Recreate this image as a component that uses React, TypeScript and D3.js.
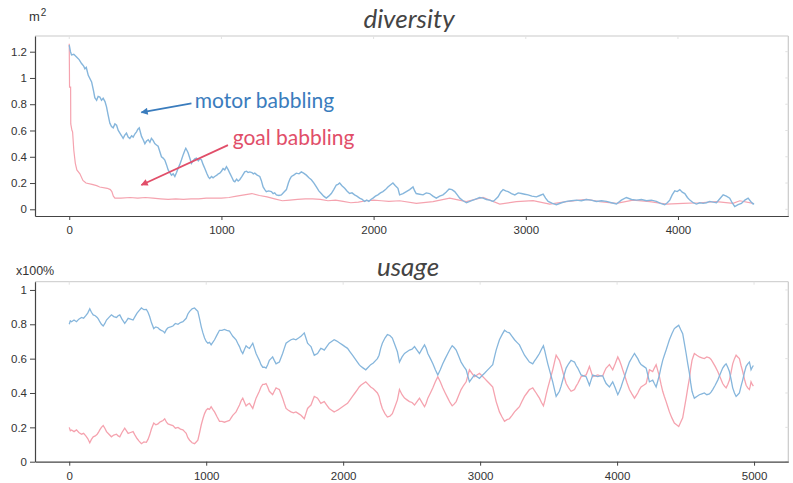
import React, { useEffect, useRef } from "react";
import * as d3 from "d3";

// ---------- data ----------
const diversityTicksX = [0, 1000, 2000, 3000, 4000];
const diversityTicksY = [0, 0.2, 0.4, 0.6, 0.8, 1, 1.2];
const usageTicksX = [0, 1000, 2000, 3000, 4000, 5000];
const usageTicksY = [0, 0.2, 0.4, 0.6, 0.8, 1];

const motorDiversity: [number, number][] = [
  [0,1.25],[8,1.2],[15,1.175],[30,1.18],[48,1.16],[65,1.14],[81,1.11],[95,1.09],[103,1.07],[112,1.08],
  [125,1.02],[147,0.97],[160,0.9],[168,0.85],[180,0.83],[190,0.86],[201,0.855],[212,0.83],[223,0.845],[235,0.82],
  [245,0.78],[255,0.72],[267,0.655],[278,0.63],[289,0.62],[300,0.65],[311,0.64],[322,0.6],[333,0.58],[344,0.56],
  [354,0.54],[365,0.565],[376,0.58],[387,0.55],[398,0.54],[410,0.56],[420,0.55],[432,0.575],[442,0.59],[451,0.61],
  [460,0.62],[468,0.585],[475,0.555],[486,0.53],[497,0.5],[508,0.52],[519,0.53],[530,0.51],[540,0.54],[551,0.525],
  [562,0.5],[573,0.49],[584,0.48],[595,0.44],[606,0.4],[617,0.39],[628,0.375],[639,0.34],[650,0.3],[661,0.28],
  [672,0.26],[683,0.27],[694,0.25],[705,0.28],[715,0.31],[726,0.34],[737,0.375],[750,0.42],[760,0.45],[766,0.465],
  [773,0.45],[781,0.43],[792,0.39],[803,0.35],[814,0.37],[825,0.385],[836,0.39],[848,0.37],[858,0.385],[869,0.375],
  [880,0.34],[891,0.31],[905,0.27],[915,0.245],[923,0.235],[935,0.25],[945,0.24],[956,0.25],[970,0.26],[980,0.27],
  [989,0.275],[1000,0.29],[1011,0.31],[1022,0.3],[1033,0.325],[1045,0.3],[1055,0.275],[1070,0.24],[1080,0.215],[1088,0.21],
  [1100,0.23],[1110,0.215],[1120,0.225],[1135,0.25],[1145,0.27],[1153,0.285],[1165,0.29],[1175,0.28],[1186,0.285],[1200,0.28],
  [1210,0.27],[1219,0.275],[1235,0.26],[1252,0.25],[1262,0.22],[1274,0.17],[1285,0.15],[1295,0.135],[1310,0.14],[1328,0.135],
  [1340,0.12],[1350,0.125],[1361,0.11],[1378,0.105],[1394,0.11],[1410,0.13],[1427,0.15],[1440,0.2],[1450,0.23],[1460,0.25],
  [1475,0.26],[1492,0.275],[1510,0.27],[1525,0.285],[1540,0.275],[1558,0.26],[1575,0.24],[1591,0.225],[1608,0.2],[1624,0.17],
  [1640,0.14],[1656,0.12],[1672,0.1],[1689,0.085],[1705,0.1],[1722,0.12],[1738,0.15],[1755,0.185],[1766,0.19],[1777,0.2],
  [1792,0.18],[1810,0.16],[1825,0.14],[1842,0.12],[1858,0.125],[1875,0.11],[1890,0.1],[1908,0.085],[1925,0.075],[1941,0.06],
  [1955,0.07],[1969,0.06],[1982,0.075],[1996,0.085],[2012,0.1],[2028,0.11],[2045,0.125],[2061,0.135],[2078,0.15],[2094,0.17],
  [2110,0.185],[2127,0.2],[2143,0.18],[2160,0.16],[2171,0.11],[2193,0.12],[2215,0.135],[2237,0.15],[2259,0.17],[2270,0.14],
  [2280,0.12],[2303,0.115],[2325,0.11],[2346,0.125],[2368,0.12],[2390,0.1],[2412,0.085],[2434,0.1],[2456,0.11],[2476,0.13],
  [2496,0.155],[2515,0.15],[2533,0.135],[2550,0.11],[2566,0.085],[2588,0.065],[2610,0.05],[2632,0.06],[2653,0.07],[2675,0.08],
  [2697,0.09],[2719,0.085],[2741,0.075],[2763,0.07],[2785,0.06],[2800,0.075],[2818,0.095],[2835,0.13],[2851,0.15],[2868,0.14],
  [2884,0.135],[2906,0.12],[2928,0.11],[2950,0.125],[2971,0.12],[2993,0.115],[3015,0.11],[3040,0.1],[3070,0.095],[3092,0.105],
  [3114,0.115],[3130,0.085],[3147,0.06],[3175,0.045],[3201,0.035],[3235,0.05],[3267,0.06],[3300,0.065],[3333,0.07],[3365,0.065],
  [3398,0.075],[3430,0.07],[3464,0.06],[3497,0.065],[3530,0.06],[3563,0.05],[3596,0.04],[3628,0.07],[3661,0.09],[3695,0.075],
  [3727,0.07],[3760,0.075],[3793,0.065],[3825,0.07],[3858,0.06],[3885,0.045],[3913,0.035],[3930,0.05],[3946,0.07],[3962,0.11],
  [3979,0.14],[3995,0.135],[4012,0.15],[4028,0.13],[4045,0.12],[4062,0.09],[4078,0.07],[4100,0.05],[4121,0.04],[4143,0.05],
  [4165,0.045],[4187,0.05],[4209,0.06],[4231,0.055],[4253,0.05],[4275,0.08],[4297,0.11],[4318,0.1],[4340,0.085],[4356,0.05],
  [4373,0.02],[4395,0.035],[4417,0.045],[4440,0.07],[4461,0.085],[4478,0.06],[4494,0.04],[4500,0.045]
];

const goalDiversity: [number, number][] = [
  [0,1.26],[1,1.1],[2,0.93],[9,0.93],[10,0.65],[18,0.6],[22,0.59],[30,0.45],[40,0.35],[50,0.3],
  [70,0.27],[90,0.22],[110,0.2],[150,0.19],[180,0.18],[200,0.17],[250,0.16],[270,0.15],[280,0.135],[290,0.1],
  [300,0.085],[340,0.085],[400,0.09],[450,0.085],[500,0.09],[550,0.085],[600,0.08],[650,0.075],[700,0.08],[750,0.075],
  [800,0.08],[850,0.08],[900,0.085],[950,0.085],[1000,0.085],[1050,0.09],[1100,0.1],[1150,0.11],[1200,0.12],[1250,0.105],
  [1300,0.095],[1350,0.08],[1400,0.065],[1450,0.07],[1500,0.075],[1550,0.08],[1600,0.08],[1650,0.075],[1700,0.065],[1750,0.07],
  [1800,0.06],[1850,0.05],[1900,0.055],[1950,0.065],[2000,0.07],[2050,0.065],[2100,0.06],[2171,0.065],[2281,0.045],[2390,0.058],
  [2500,0.085],[2609,0.058],[2719,0.09],[2829,0.04],[2938,0.058],[3048,0.066],[3157,0.04],[3267,0.058],[3398,0.075],[3486,0.058],
  [3596,0.045],[3705,0.07],[3815,0.058],[3924,0.04],[4034,0.045],[4143,0.05],[4253,0.058],[4362,0.045],[4406,0.065],[4494,0.045]
];

const motorUsage: [number, number][] = [
  [0,0.8],[8,0.82],[17,0.815],[35,0.825],[53,0.815],[70,0.83],[90,0.84],[105,0.835],[121,0.85],[135,0.865],
  [150,0.89],[162,0.87],[175,0.855],[190,0.85],[204,0.84],[213,0.83],[223,0.815],[235,0.8],[248,0.79],[260,0.805],
  [272,0.825],[290,0.84],[308,0.855],[325,0.845],[345,0.84],[357,0.85],[369,0.855],[385,0.83],[405,0.805],[418,0.82],
  [430,0.835],[448,0.83],[466,0.825],[480,0.845],[495,0.865],[510,0.88],[527,0.895],[545,0.885],[563,0.887],[575,0.87],
  [587,0.845],[600,0.81],[617,0.775],[632,0.785],[648,0.78],[660,0.77],[672,0.765],[685,0.76],[697,0.75],[710,0.77],
  [721,0.78],[740,0.785],[757,0.79],[775,0.805],[794,0.8],[812,0.81],[830,0.815],[842,0.825],[854,0.835],[866,0.86],
  [879,0.875],[897,0.89],[915,0.895],[927,0.885],[939,0.875],[952,0.83],[964,0.785],[976,0.75],[988,0.72],[1000,0.7],
  [1012,0.69],[1024,0.695],[1036,0.68],[1048,0.695],[1061,0.71],[1080,0.74],[1097,0.765],[1115,0.765],[1133,0.77],[1150,0.765],
  [1170,0.76],[1182,0.745],[1194,0.73],[1206,0.72],[1218,0.71],[1230,0.69],[1243,0.67],[1255,0.645],[1267,0.63],[1280,0.655],
  [1291,0.675],[1304,0.665],[1316,0.66],[1328,0.675],[1340,0.69],[1352,0.66],[1364,0.63],[1376,0.61],[1388,0.59],[1400,0.565],
  [1413,0.55],[1425,0.55],[1437,0.545],[1449,0.565],[1461,0.59],[1473,0.6],[1485,0.61],[1497,0.59],[1510,0.57],[1522,0.575],
  [1534,0.58],[1546,0.605],[1558,0.63],[1570,0.66],[1583,0.69],[1600,0.7],[1619,0.71],[1637,0.715],[1655,0.71],[1674,0.72],
  [1692,0.73],[1704,0.74],[1716,0.75],[1728,0.72],[1740,0.69],[1752,0.68],[1765,0.67],[1777,0.645],[1789,0.62],[1801,0.625],
  [1813,0.63],[1825,0.645],[1837,0.66],[1850,0.655],[1862,0.65],[1880,0.67],[1898,0.69],[1916,0.7],[1934,0.71],[1947,0.705],
  [1959,0.7],[1977,0.69],[1995,0.68],[2013,0.67],[2032,0.66],[2050,0.64],[2068,0.62],[2086,0.6],[2104,0.58],[2117,0.565],
  [2129,0.555],[2147,0.545],[2165,0.535],[2183,0.55],[2201,0.565],[2220,0.575],[2238,0.59],[2250,0.6],[2262,0.62],[2274,0.66],
  [2286,0.69],[2305,0.72],[2323,0.74],[2341,0.735],[2359,0.72],[2378,0.68],[2396,0.64],[2411,0.58],[2430,0.61],[2448,0.63],
  [2466,0.64],[2484,0.65],[2503,0.655],[2521,0.67],[2539,0.65],[2557,0.63],[2575,0.655],[2594,0.68],[2606,0.66],[2618,0.63],
  [2637,0.6],[2655,0.57],[2673,0.535],[2691,0.505],[2709,0.535],[2727,0.57],[2745,0.6],[2764,0.63],[2780,0.655],[2796,0.675],
  [2810,0.665],[2825,0.65],[2843,0.615],[2861,0.58],[2880,0.555],[2898,0.535],[2910,0.5],[2922,0.465],[2940,0.485],[2959,0.505],
  [2977,0.495],[2995,0.485],[3013,0.5],[3032,0.515],[3050,0.53],[3068,0.545],[3080,0.555],[3092,0.565],[3105,0.61],[3117,0.65],
  [3129,0.68],[3141,0.71],[3160,0.74],[3178,0.765],[3196,0.755],[3214,0.75],[3233,0.73],[3251,0.71],[3269,0.695],[3287,0.68],
  [3305,0.65],[3324,0.62],[3342,0.6],[3360,0.58],[3372,0.575],[3384,0.57],[3396,0.585],[3409,0.6],[3421,0.615],[3433,0.63],
  [3448,0.655],[3462,0.675],[3472,0.645],[3482,0.61],[3494,0.57],[3506,0.535],[3518,0.5],[3530,0.465],[3543,0.42],[3555,0.38],
  [3567,0.395],[3579,0.41],[3591,0.44],[3603,0.475],[3615,0.51],[3628,0.545],[3646,0.57],[3664,0.59],[3677,0.585],[3689,0.58],
  [3701,0.56],[3713,0.545],[3725,0.525],[3737,0.505],[3755,0.5],[3774,0.495],[3786,0.47],[3798,0.445],[3810,0.475],[3822,0.505],
  [3840,0.5],[3859,0.495],[3877,0.5],[3895,0.5],[3908,0.475],[3920,0.455],[3932,0.445],[3944,0.435],[3956,0.45],[3968,0.465],
  [3986,0.43],[4005,0.39],[4017,0.41],[4029,0.435],[4041,0.465],[4054,0.495],[4072,0.54],[4090,0.58],[4108,0.605],[4127,0.63],
  [4139,0.615],[4151,0.6],[4163,0.58],[4175,0.565],[4194,0.555],[4212,0.545],[4224,0.505],[4236,0.465],[4248,0.47],[4260,0.475],
  [4272,0.455],[4285,0.435],[4297,0.47],[4309,0.505],[4321,0.55],[4333,0.59],[4345,0.62],[4358,0.65],[4370,0.68],[4382,0.71],
  [4400,0.745],[4418,0.775],[4434,0.785],[4450,0.795],[4464,0.77],[4479,0.745],[4491,0.69],[4504,0.63],[4516,0.57],[4528,0.515],
  [4537,0.46],[4547,0.41],[4555,0.39],[4564,0.37],[4582,0.38],[4601,0.39],[4619,0.395],[4637,0.4],[4655,0.39],[4674,0.395],
  [4686,0.405],[4698,0.42],[4716,0.445],[4735,0.475],[4753,0.51],[4771,0.545],[4784,0.56],[4796,0.57],[4808,0.55],[4820,0.525],
  [4832,0.48],[4844,0.43],[4857,0.4],[4869,0.38],[4881,0.39],[4893,0.4],[4905,0.44],[4917,0.475],[4930,0.52],[4942,0.555],
  [4954,0.57],[4966,0.58],[4972,0.56],[4978,0.535],[4987,0.55],[4995,0.56]
];

const goalUsage: [number, number][] = [
  [0,0.2],[8,0.18],[17,0.185],[35,0.175],[53,0.185],[70,0.17],[90,0.16],[105,0.165],[121,0.15],[135,0.135],
  [150,0.11],[162,0.13],[175,0.145],[190,0.15],[204,0.16],[213,0.17],[223,0.185],[235,0.2],[248,0.21],[260,0.195],
  [272,0.175],[290,0.16],[308,0.145],[325,0.155],[345,0.16],[357,0.15],[369,0.145],[385,0.17],[405,0.195],[418,0.18],
  [430,0.165],[448,0.17],[466,0.175],[480,0.155],[495,0.135],[510,0.12],[527,0.105],[545,0.115],[563,0.113],[575,0.13],
  [587,0.155],[600,0.19],[617,0.225],[632,0.215],[648,0.22],[660,0.23],[672,0.235],[685,0.24],[697,0.25],[710,0.23],
  [721,0.22],[740,0.215],[757,0.21],[775,0.195],[794,0.2],[812,0.19],[830,0.185],[842,0.175],[854,0.165],[866,0.14],
  [879,0.125],[897,0.11],[915,0.105],[927,0.115],[939,0.125],[952,0.17],[964,0.215],[976,0.25],[988,0.28],[1000,0.3],
  [1012,0.31],[1024,0.305],[1036,0.32],[1048,0.305],[1061,0.29],[1080,0.26],[1097,0.235],[1115,0.235],[1133,0.23],[1150,0.235],
  [1170,0.24],[1182,0.255],[1194,0.27],[1206,0.28],[1218,0.29],[1230,0.31],[1243,0.33],[1255,0.355],[1267,0.37],[1280,0.345],
  [1291,0.325],[1304,0.335],[1316,0.34],[1328,0.325],[1340,0.31],[1352,0.34],[1364,0.37],[1376,0.39],[1388,0.41],[1400,0.435],
  [1413,0.45],[1425,0.45],[1437,0.455],[1449,0.435],[1461,0.41],[1473,0.4],[1485,0.39],[1497,0.41],[1510,0.43],[1522,0.425],
  [1534,0.42],[1546,0.395],[1558,0.37],[1570,0.34],[1583,0.31],[1600,0.3],[1619,0.29],[1637,0.285],[1655,0.29],[1674,0.28],
  [1692,0.27],[1704,0.26],[1716,0.25],[1728,0.28],[1740,0.31],[1752,0.32],[1765,0.33],[1777,0.355],[1789,0.38],[1801,0.375],
  [1813,0.37],[1825,0.355],[1837,0.34],[1850,0.345],[1862,0.35],[1880,0.33],[1898,0.31],[1916,0.3],[1934,0.29],[1947,0.295],
  [1959,0.3],[1977,0.31],[1995,0.32],[2013,0.33],[2032,0.34],[2050,0.36],[2068,0.38],[2086,0.4],[2104,0.42],[2117,0.435],
  [2129,0.445],[2147,0.455],[2165,0.465],[2183,0.45],[2201,0.435],[2220,0.425],[2238,0.41],[2250,0.4],[2262,0.38],[2274,0.34],
  [2286,0.31],[2305,0.28],[2323,0.26],[2341,0.265],[2359,0.28],[2378,0.32],[2396,0.36],[2411,0.42],[2430,0.39],[2448,0.37],
  [2466,0.36],[2484,0.35],[2503,0.345],[2521,0.33],[2539,0.35],[2557,0.37],[2575,0.345],[2594,0.32],[2606,0.34],[2618,0.37],
  [2637,0.4],[2655,0.43],[2673,0.465],[2691,0.495],[2709,0.465],[2727,0.43],[2745,0.4],[2764,0.37],[2780,0.345],[2796,0.325],
  [2810,0.335],[2825,0.35],[2843,0.385],[2861,0.42],[2880,0.445],[2898,0.465],[2910,0.5],[2922,0.535],[2940,0.515],[2959,0.495],
  [2977,0.505],[2995,0.515],[3013,0.5],[3032,0.485],[3050,0.47],[3068,0.455],[3080,0.445],[3092,0.435],[3105,0.39],[3117,0.35],
  [3129,0.32],[3141,0.29],[3160,0.26],[3178,0.235],[3196,0.245],[3214,0.25],[3233,0.27],[3251,0.29],[3269,0.305],[3287,0.32],
  [3305,0.35],[3324,0.38],[3342,0.4],[3360,0.42],[3372,0.425],[3384,0.43],[3396,0.415],[3409,0.4],[3421,0.385],[3433,0.37],
  [3448,0.345],[3462,0.325],[3472,0.355],[3482,0.39],[3494,0.43],[3506,0.465],[3518,0.5],[3530,0.535],[3543,0.58],[3555,0.62],
  [3567,0.605],[3579,0.59],[3591,0.56],[3603,0.525],[3615,0.49],[3628,0.455],[3646,0.43],[3664,0.41],[3677,0.415],[3689,0.42],
  [3701,0.44],[3713,0.455],[3725,0.475],[3737,0.495],[3755,0.5],[3774,0.505],[3786,0.53],[3798,0.555],[3810,0.525],[3822,0.495],
  [3840,0.5],[3859,0.505],[3877,0.5],[3895,0.5],[3908,0.525],[3920,0.545],[3932,0.555],[3944,0.565],[3956,0.55],[3968,0.535],
  [3986,0.57],[4005,0.61],[4017,0.59],[4029,0.565],[4041,0.535],[4054,0.505],[4072,0.46],[4090,0.42],[4108,0.395],[4127,0.37],
  [4139,0.385],[4151,0.4],[4163,0.42],[4175,0.435],[4194,0.445],[4212,0.455],[4224,0.495],[4236,0.535],[4248,0.53],[4260,0.525],
  [4272,0.545],[4285,0.565],[4297,0.53],[4309,0.495],[4321,0.45],[4333,0.41],[4345,0.38],[4358,0.35],[4370,0.32],[4382,0.29],
  [4400,0.255],[4418,0.225],[4434,0.215],[4450,0.205],[4464,0.23],[4479,0.255],[4491,0.31],[4504,0.37],[4516,0.43],[4528,0.485],
  [4537,0.54],[4547,0.59],[4555,0.61],[4564,0.63],[4582,0.62],[4601,0.61],[4619,0.605],[4637,0.6],[4655,0.61],[4674,0.605],
  [4686,0.595],[4698,0.58],[4716,0.555],[4735,0.525],[4753,0.49],[4771,0.455],[4784,0.44],[4796,0.43],[4808,0.45],[4820,0.475],
  [4832,0.52],[4844,0.57],[4857,0.6],[4869,0.62],[4881,0.61],[4893,0.6],[4905,0.56],[4917,0.525],[4930,0.48],[4942,0.445],
  [4954,0.43],[4966,0.42],[4972,0.44],[4978,0.465],[4987,0.45],[4995,0.44]
];

// ---------- style ----------
const W = 793;
const H = 483;
const BLUE_LINE = "#86b6dc";
const PINK_LINE = "#f5a3af";
const BLUE_TEXT = "#3a7cbd";
const PINK_TEXT = "#e14e69";
const AXIS = "#444";
const BORDER = "#c9c9c9";
const TICK_FONT = "'Liberation Sans', Arial, sans-serif";
const TITLE_FONT = "Lato, 'Open Sans', sans-serif";

const L = 35, R = 788.3;
const topY = { top: 36, bottom: 216 };
const botY = { top: 281.7, bottom: 461.7 };

const xDiv = d3.scaleLinear().domain([-225, 4725]).range([L, R]);
const yDiv = d3.scaleLinear().domain([-0.051, 1.3195]).range([topY.bottom, topY.top]);
const xUse = d3.scaleLinear().domain([-250, 5250]).range([L, R]);
const yUse = d3.scaleLinear().domain([0, 1.048]).range([botY.bottom, botY.top]);

const fmt = (d: number) => String(+d.toFixed(1));

function Axes({ x, y, xt, yt, top, bottom }: any) {
  const gx = useRef<SVGGElement>(null);
  const gy = useRef<SVGGElement>(null);
  useEffect(() => {
    const ax = d3.axisBottom(x).tickValues(xt).tickSize(4).tickSizeOuter(0).tickPadding(6).tickFormat((d: any) => String(d));
    const ay = d3.axisLeft(y).tickValues(yt).tickSize(5).tickSizeOuter(0).tickPadding(3).tickFormat((d: any) => fmt(d));
    const sx = d3.select(gx.current!);
    sx.call(ax as any);
    const sy = d3.select(gy.current!);
    sy.call(ay as any);
    [sx, sy].forEach((s) => {
      s.select(".domain").attr("stroke", AXIS).attr("stroke-width", 1.2);
      s.selectAll(".tick line").attr("stroke", AXIS);
      s.selectAll(".tick text").attr("fill", "#333").style("font-family", TICK_FONT).style("font-size", "11.5px");
    });
  }, []);
  return (
    <g>
      <line x1={L} x2={R} y1={top} y2={top} stroke={BORDER} strokeWidth={1} />
      <line x1={R} x2={R} y1={top} y2={bottom} stroke={BORDER} strokeWidth={1.2} />
      {xt.map((t: number) => (
        <line key={"tx" + t} x1={x(t)} x2={x(t)} y1={top} y2={top + 3} stroke="#e2e2e2" />
      ))}
      {yt.map((t: number) => (
        <line key={"ty" + t} x1={R - 3} x2={R} y1={y(t)} y2={y(t)} stroke="#e2e2e2" />
      ))}
      <g ref={gx} transform={`translate(0,${bottom})`} />
      <g ref={gy} transform={`translate(${L},0)`} />
    </g>
  );
}

export default function App() {
  const lineDiv = d3.line<[number, number]>().x((d) => xDiv(d[0])).y((d) => yDiv(d[1]));
  const lineUse = d3.line<[number, number]>().x((d) => xUse(d[0])).y((d) => yUse(d[1]));

  return (
    <svg width={W} height={H} style={{ position: "absolute", left: 0, top: 0, background: "#fff" }}>
      <defs>
        <marker id="ahBlue" viewBox="0 0 10 10" refX="9" refY="5" markerWidth="9" markerHeight="7" markerUnits="userSpaceOnUse" orient="auto">
          <path d="M0,0 L10,5 L0,10 z" fill={BLUE_TEXT} />
        </marker>
        <marker id="ahPink" viewBox="0 0 10 10" refX="9" refY="5" markerWidth="9" markerHeight="7" markerUnits="userSpaceOnUse" orient="auto">
          <path d="M0,0 L10,5 L0,10 z" fill={PINK_TEXT} />
        </marker>
      </defs>

      {/* ----- diversity ----- */}
      <text x={409} y={28} textAnchor="middle" fontFamily={TITLE_FONT} fontStyle="italic" fontSize={26} fill="#444">diversity</text>
      <text x={29} y={21} fontFamily={TICK_FONT} fontSize={13} fill="#333">
        m<tspan fontSize={10} dy={-5} dx={1}>2</tspan>
      </text>
      <Axes x={xDiv} y={yDiv} xt={diversityTicksX} yt={diversityTicksY} top={topY.top} bottom={topY.bottom} />
      <path d={lineDiv(goalDiversity) || ""} fill="none" stroke={PINK_LINE} strokeWidth={1.2} />
      <path d={lineDiv(motorDiversity) || ""} fill="none" stroke={BLUE_LINE} strokeWidth={1.4} />

      <line x1={xDiv(803)} y1={yDiv(0.807)} x2={xDiv(474)} y2={yDiv(0.738)} stroke={BLUE_TEXT} strokeWidth={1.8} markerEnd="url(#ahBlue)" />
      <text x={xDiv(825)} y={yDiv(0.775)} fontFamily={TITLE_FONT} fontSize={21} fill={BLUE_TEXT}>motor babbling</text>
      <line x1={xDiv(1043)} y1={yDiv(0.489)} x2={xDiv(474)} y2={yDiv(0.185)} stroke={PINK_TEXT} strokeWidth={1.8} markerEnd="url(#ahPink)" />
      <text x={xDiv(1074)} y={yDiv(0.49)} fontFamily={TITLE_FONT} fontSize={21} fill={PINK_TEXT}>goal babbling</text>

      {/* ----- usage ----- */}
      <text x={408} y={276} textAnchor="middle" fontFamily={TITLE_FONT} fontStyle="italic" fontSize={26} fill="#444">usage</text>
      <text x={16} y={275} fontFamily={TICK_FONT} fontSize={12.5} fill="#333">x100%</text>
      <Axes x={xUse} y={yUse} xt={usageTicksX} yt={usageTicksY} top={botY.top} bottom={botY.bottom} />
      <path d={lineUse(goalUsage) || ""} fill="none" stroke={PINK_LINE} strokeWidth={1.3} />
      <path d={lineUse(motorUsage) || ""} fill="none" stroke={BLUE_LINE} strokeWidth={1.3} />
    </svg>
  );
}
